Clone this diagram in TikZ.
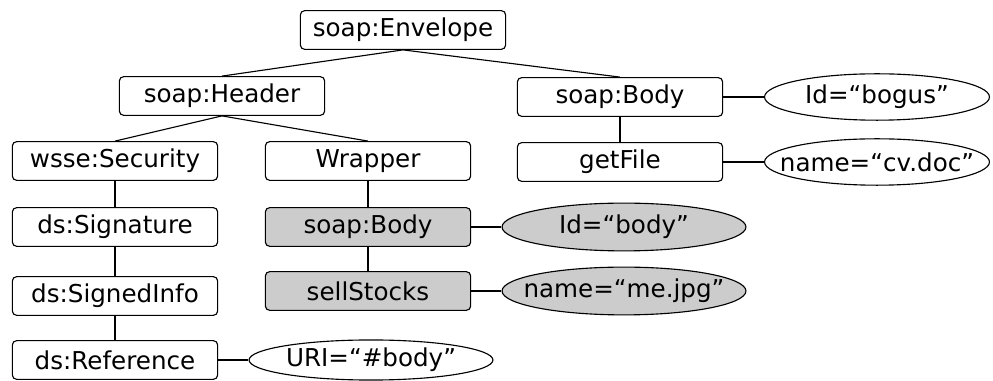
\documentclass[tikz,border=0pt]{standalone}
\usepackage{fontspec}
\setmainfont{DejaVu Sans}
\usepackage{tikz}
\usetikzlibrary{shapes.geometric}
\newcommand{\attrval}[1]{\makebox[0pt]{#1}}

\begin{document}
\begin{tikzpicture}[x=0.25mm,y=-0.25mm,
    elem/.style={draw,rounded corners=3pt,line width=0.8pt,inner sep=0pt,
      minimum width=146pt,minimum height=27.5pt,font=\fontsize{17.5}{20}\selectfont},
    attr/.style={draw,ellipse,line width=0.8pt,inner sep=0pt,
      minimum width=160pt,minimum height=33pt,font=\fontsize{17.5}{20}\selectfont},
    wide/.style={minimum width=173.5pt,minimum height=34pt},
    moved/.style={fill=gray!40}]
    \useasboundingbox (0,0) rectangle (993,381);
    %%
    %% element tree
    \node[elem] (env) at (403,30) {soap:Envelope};
    \node[elem] (hdr) at (222,96) {soap:Header};
    \node[elem] (body) at (620,97) {soap:Body};
    \node[elem] (sec) at (115,161) {wsse:Security};
    \node[elem] (wrap) at (368,161) {Wrapper};
    \node[elem] (getf) at (620,162) {getFile};
    \node[elem] (sig) at (115,227) {ds:Signature};
    \node[elem,moved] (sbody) at (368,227) {soap:Body};
    \node[elem] (sinfo) at (115,296) {ds:SignedInfo};
    \node[elem,moved] (sell) at (368,291) {sellStocks};
    \node[elem] (ref) at (115,360) {ds:Reference};
    %% attributes
    \node[attr] (bogus) at (877,97) {\attrval{Id=“bogus”}};
    \node[attr] (cvdoc) at (877,162) {\attrval{name=“cv.doc”}};
    \node[attr,wide,moved] (idbody) at (624,227) {\attrval{Id=“body”}};
    \node[attr,wide,moved] (mejpg) at (624,291) {\attrval{name=“me.jpg”}};
    \node[attr,wide,minimum height=28.5pt] (uri) at (371,360) {\attrval{URI=“\#body”}};
    %% edges
    \foreach \A/\B in {env/hdr,env/body,hdr/sec,hdr/wrap,body/getf,sec/sig,sig/sinfo,sinfo/ref,wrap/sbody,sbody/sell}
    {
    \draw[line width=0.8pt] (\A.south) -- (\B.north);
    }
    \foreach \A/\B in {body/bogus,getf/cvdoc,sbody/idbody,sell/mejpg,ref/uri}
    {
    \draw[line width=0.8pt] (\A.east) -- (\B.west);
    }
\end{tikzpicture}
\end{document}
